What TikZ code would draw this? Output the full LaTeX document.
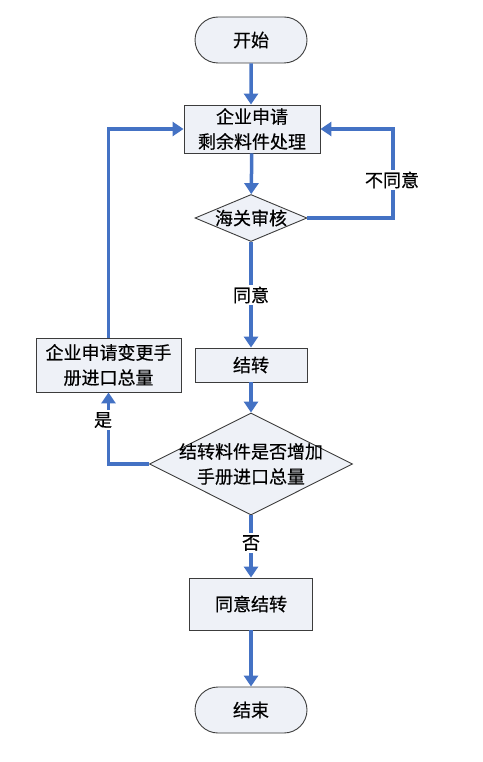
\documentclass[tikz,border=0pt]{standalone}
\usepackage{fontspec}
\setmainfont[UprightFeatures={FakeBold=0.5}]{Noto Sans CJK SC}
\usetikzlibrary{shapes.geometric,shapes.misc,arrows.meta}
\definecolor{flow}{RGB}{68,114,196}
\definecolor{boxfill}{RGB}{238,241,247}
\definecolor{boxline}{RGB}{60,60,60}
\tikzset{
  txt/.style={font=\fontsize{18}{25}\selectfont, align=center, inner sep=0pt},
  base/.style={txt, draw=boxline, fill=boxfill, line width=0.9pt},
  term/.style={base, rounded rectangle, minimum width=112pt, minimum height=46pt},
  proc/.style={base, rectangle},
  dec/.style={base, diamond},
  flowline/.style={draw=flow, line width=3.5pt, -{Triangle[length=11pt,width=14pt]}},
  lbl/.style={txt, fill=white, inner sep=2pt}
}
\begin{document}
\begin{tikzpicture}[x=1pt,y=-1pt]
\useasboundingbox (0,0) rectangle (482,762);
\node[term] (start) at (251,40) {开始};
\node[proc, minimum width=136pt, minimum height=48pt] (apply) at (252,129) {企业申请\\剩余料件处理};
\node[dec, minimum width=112pt, minimum height=47pt] (audit) at (251,218) {};
\node[txt] (audittext) at (audit) {海关审核};
\node[proc, minimum width=112pt, minimum height=34pt] (carry) at (251,365) {结转};
\node[proc, minimum width=145pt, minimum height=54pt] (change) at (108.5,365) {企业申请变更手\\册进口总量};
\node[dec, minimum width=203pt, minimum height=102pt] (check) at (251,464) {};
\node[txt] (checktext) at (check) {结转料件是否增加\\手册进口总量};
\node[proc, minimum width=123pt, minimum height=52pt] (agree) at (251,604) {同意结转};
\node[term] (end) at (251,710) {结束};
\coordinate (rt) at (393,218);
\coordinate (rb) at (393,129);
\coordinate (lt) at (108.5,129);
\coordinate (lb) at (108.5,464);
\draw[flowline] (start) -- (start |- apply.north);
\draw[flowline] (apply) -- (audit);
\draw[flowline] (audit.east) -- (rt) -- (rb) -- (apply.east);
\draw[flowline] (audit) -- (carry);
\draw[flowline] (carry) -- (check);
\draw[flowline] (check.west) -- (lb) -- (change.south);
\draw[flowline] (change.north) -- (lt) -- (apply.west);
\draw[flowline] (check) -- (agree);
\draw[flowline] (agree) -- (end);
\node[lbl] (l1) at (392,180) {不同意};
\node[lbl] (l2) at (251,295) {同意};
\node[lbl] (l3) at (103,420) {是};
\node[lbl] (l4) at (251,543) {否};
\end{tikzpicture}
\end{document}
